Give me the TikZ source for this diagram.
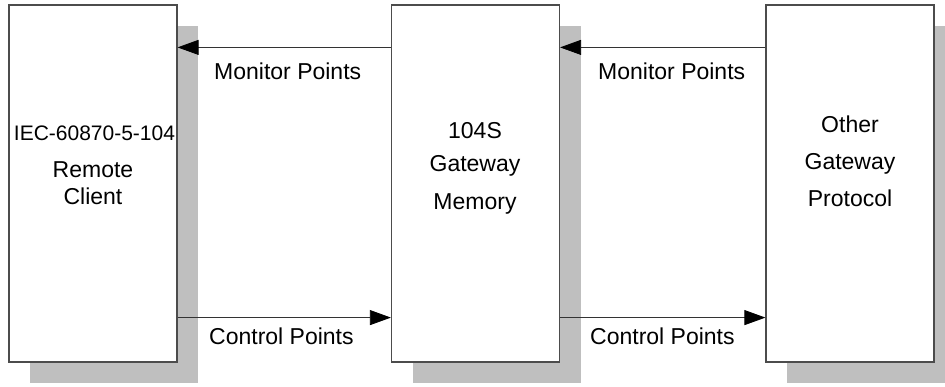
\documentclass[tikz,border=0pt]{standalone}
\usepackage{fontspec}
\setmainfont{Liberation Sans}
\usetikzlibrary{arrows.meta,shadows}

\tikzset{
  block/.style={draw=black!70, line width=1.2pt, fill=white, inner sep=0pt,
    minimum width=168pt, minimum height=357pt,
    drop shadow={shadow xshift=21pt, shadow yshift=-21pt, fill=black!25, opacity=1}},
  flow/.style={draw=black!80, line width=0.8pt, -{Triangle[length=21pt,width=15pt,black]}},
  txt/.style={font=\fontsize{23}{28}\selectfont, anchor=base, inner sep=0pt},
  tag/.style={font=\fontsize{23}{28}\selectfont, anchor=base west, inner sep=0pt},
}

\begin{document}
\begin{tikzpicture}[x=1pt,y=1pt]
\useasboundingbox (0,0) rectangle (945,387);
\node[block] at(93, 203.5)(cli){};
\node[block] at(475.5, 203.5)(mem){};
\node[block] at(850, 203.5)(oth){};
% box texts
\node[txt, font=\fontsize{21}{25}\selectfont] at(94.5, 246)(cli1){IEC-60870-5-104};
\node[txt] at(93, 209)(cli2){Remote};
\node[txt] at(93, 182)(cli3){Client};
\node[txt] at(475, 248)(mem1){104S};
\node[txt] at(475, 215)(mem2){Gateway};
\node[txt] at(475, 177)(mem3){Memory};
\node[txt] at(850, 254)(oth1){Other};
\node[txt] at(850, 217)(oth2){Gateway};
\node[txt] at(850, 180)(oth3){Protocol};
% links
\draw[flow] ([yshift=-43pt]mem.north west) -- ([yshift=-43pt]cli.north east);
\draw[flow] ([yshift=45pt]cli.south east) -- ([yshift=45pt]mem.south west);
\draw[flow] ([yshift=-43pt]oth.north west) -- ([yshift=-43pt]mem.north east);
\draw[flow] ([yshift=45pt]mem.south east) -- ([yshift=45pt]oth.south west);
\node[tag] at(214, 307)(mon1){Monitor Points};
\node[tag] at(209, 42)(ctl1){Control Points};
\node[tag] at(598, 307)(mon2){Monitor Points};
\node[tag] at(590, 42)(ctl2){Control Points};
\end{tikzpicture}
\end{document}
